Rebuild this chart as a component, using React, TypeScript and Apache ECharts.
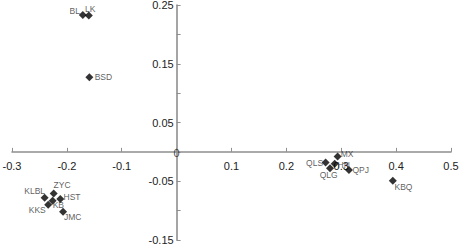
import React, { useEffect, useRef } from "react";
import * as echarts from "echarts";

const names = ["BL", "LK", "BSD", "KLBL", "ZYC", "HST", "KB", "KKS", "JMC", "MX", "QLS", "HN", "QLG", "QPJ", "KBQ"];
const xValues = [-0.171, -0.160, -0.159, -0.2405, -0.224, -0.212, -0.226, -0.234, -0.207, 0.2934, 0.2715, 0.288, 0.2795, 0.314, 0.394];
const yValues = [0.233, 0.232, 0.127, -0.078, -0.071, -0.080, -0.083, -0.090, -0.102, -0.008, -0.018, -0.020, -0.028, -0.031, -0.049];
const xTickLabels = ["-0.3", "-0.2", "-0.1", "0.1", "0.2", "0.3", "0.4", "0.5"];
const yTickLabels = ["0.25", "0.15", "0.05", "-0.05", "-0.15"];
const originLabel = "0";

// label placement (style, not data)
const labelOffsets: Record<string, [number, number]> = {
  BL: [-8, -4], LK: [1.5, -7], BSD: [14, 0], KLBL: [-10, -6.5], ZYC: [8.4, -8.4],
  HST: [11.7, -2], KB: [5.7, 4.8], KKS: [-11, 5.3], JMC: [9.7, 5.3], MX: [9.5, -2.5],
  QLS: [-11, 0.5], HN: [9, 1.5], QLG: [-1.4, 7], QPJ: [11.8, -0.5], KBQ: [10.6, 5.9],
};

export default function App() {
  const ref = useRef<HTMLDivElement>(null);
  useEffect(() => {
    document.body.style.margin = "0";
    const chart = echarts.init(ref.current!, null, { renderer: "svg" });
    const font = "Arial, 'Liberation Sans', sans-serif";
    const axisColor = "#8f8f8f";
    const gridOpt = { left: 12, right: 8, top: 5, bottom: 7, containLabel: false, outerBoundsMode: "none" };
    chart.setOption({
      animation: false,
      color: ["#000"],
      textStyle: { fontFamily: font },
      grid: gridOpt,
      xAxis: {
        type: "value", min: -0.3, max: 0.5, interval: 0.1,
        splitLine: { show: false },
        axisLine: { onZero: false, lineStyle: { color: axisColor, width: 1.6 } },
        axisTick: { inside: true, length: 4, lineStyle: { color: axisColor, width: 1 } },
        axisLabel: {
          margin: 9, fontSize: 11, color: "#222", fontFamily: font,
          formatter: (v: number) => { const s = (+v).toFixed(1); return xTickLabels.includes(s) ? s : ""; },
        },
      },
      yAxis: {
        type: "value", min: -0.15, max: 0.25, interval: 0.05,
        splitLine: { show: false },
        axisLine: { onZero: false, lineStyle: { color: axisColor, width: 1.6 } },
        axisTick: { inside: true, length: 4, lineStyle: { color: axisColor, width: 1 } },
        axisLabel: {
          margin: 3, fontSize: 11, color: "#222", fontFamily: font,
          formatter: (v: number) => { const s = (+v).toFixed(2); return yTickLabels.includes(s) ? s : ""; },
        },
      },
      series: [
        {
          type: "scatter",
          symbol: "diamond",
          symbolSize: 8,
          itemStyle: { color: "#000" },
          label: { show: true, position: "inside", color: "#333", fontSize: 8.5, fontFamily: font, textBorderWidth: 0, formatter: (p: any) => p.name },
          data: names.map((n, i) => ({
            name: n,
            value: [xValues[i], yValues[i]],
            label: { offset: labelOffsets[n], color: "#333" },
          })),
        },
        {
          type: "scatter",
          symbolSize: 1,
          itemStyle: { color: "rgba(0,0,0,0)" },
          silent: true,
          label: { show: true, position: "inside", formatter: originLabel, color: "#222", fontSize: 11, fontFamily: font, textBorderWidth: 0, offset: [0, 1] },
          data: [{ value: [0, 0] }],
        },
      ],
    });
    // Place the axes through the origin, using the library's own scales.
    const origin = chart.convertToPixel({ gridIndex: 0 }, [0, 0]) as number[];
    const gridLeft = gridOpt.left;
    const gridBottom = 247 - gridOpt.bottom;
    chart.setOption({
      xAxis: { offset: -(gridBottom - origin[1]) },
      yAxis: { offset: -(origin[0] - gridLeft) },
    });
    return () => chart.dispose();
  }, []);
  return <div ref={ref} style={{ width: 459, height: 247 }} />;
}
